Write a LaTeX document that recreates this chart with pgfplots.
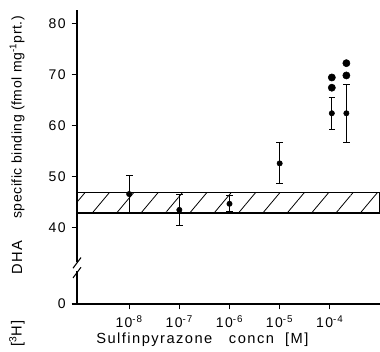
\documentclass[border=0pt]{standalone}
\usepackage{fontspec}
\setmainfont{Liberation Sans}
\newfontfamily\lsfont[LetterSpace=10]{Liberation Sans}
\newfontfamily\ylfont[LetterSpace=4]{Liberation Sans}
\usepackage{pgfplots}
\pgfplotsset{compat=1.18}
\usetikzlibrary{patterns.meta}
\begin{document}
\begin{tikzpicture}
\path[use as bounding box] (-57.75pt,-36pt) rectangle (227.25pt,228pt);
\begin{axis}[
 at={(0,0)}, anchor=south west, scale only axis,
 width=227.25pt, height=220.5pt,
 xmin=-9.04, xmax=-3.0, ymin=25.1, ymax=82.6,
 axis x line=bottom, axis y line=left,
 axis line style={line width=1pt,-},
 xtick={-8,-7,-6,-5,-4},
 xticklabels={10\textsuperscript{-8},10\textsuperscript{-7},10\textsuperscript{-6},10\textsuperscript{-5},10\textsuperscript{-4}},
 ytick={25.1,40,50,60,70,80}, yticklabels={0,40,50,60,70,80},
 tick align=outside, major tick length=4pt,
 tick style={line width=0.8pt, black},
 ticklabel style={font=\lsfont\fontsize{10.5}{12}\selectfont},
 yticklabel style={xshift=-1pt},
 xticklabel style={yshift=-1pt},
 /pgf/number format/assume math mode=true,
 clip=false,
]
\addplot[draw=black, line width=0.8pt, pattern={Lines[angle=50,distance=14pt,line width=0.6pt]}]
  coordinates {(-9.04,42.9) (-3.0,42.9) (-3.0,46.9) (-9.04,46.9)} -- cycle;
\addplot[only marks, mark=*, mark size=2pt, black,
  error bars/.cd, y dir=both, y explicit,
  error bar style={line width=0.8pt},
  error mark options={rotate=90, mark size=2.5pt, line width=0.8pt}]
  coordinates {
  (-8,46.6) +- (0,3.6)
  (-7,43.5) +- (0,3.1)
  (-6,44.7) +- (0,1.6)
  (-5,52.6) +- (0,4.0)
  (-3.96,62.4) +- (0,3.1)
  (-3.67,62.4) +- (0,5.7)
  };
\addplot[only marks, mark=*, mark size=2.7pt, black]
  coordinates {(-3.96,69.4) (-3.96,67.4) (-3.67,72.2) (-3.67,69.8)};
\draw[white, line width=3pt] (axis cs:-9.04,31.5) -- (axis cs:-9.04,33.4);
\draw[line width=0.8pt] ([xshift=-3pt,yshift=-5pt]axis cs:-9.04,33.4) -- ([xshift=3pt,yshift=3pt]axis cs:-9.04,33.4);
\draw[line width=0.8pt] ([xshift=-3pt,yshift=-5pt]axis cs:-9.04,31.5) -- ([xshift=3pt,yshift=3pt]axis cs:-9.04,31.5);
\end{axis}
\node[rotate=90, font=\ylfont\fontsize{10.5}{12}\selectfont] at (-45pt,140pt) {specific binding (fmol mg\textsuperscript{-1}prt.)};
\node[rotate=90, font=\lsfont\fontsize{11}{12}\selectfont] at (-45pt,34.5pt) {DHA};
\node[rotate=90, font=\lsfont\fontsize{11}{12}\selectfont] at (-45pt,-22pt) {[\textsuperscript{3}H]};
\node[font=\lsfont\fontsize{11}{12}\selectfont] at (94pt,-27pt) {Sulfinpyrazone\ \ \ concn\ \ [M]};
\end{tikzpicture}
\end{document}
